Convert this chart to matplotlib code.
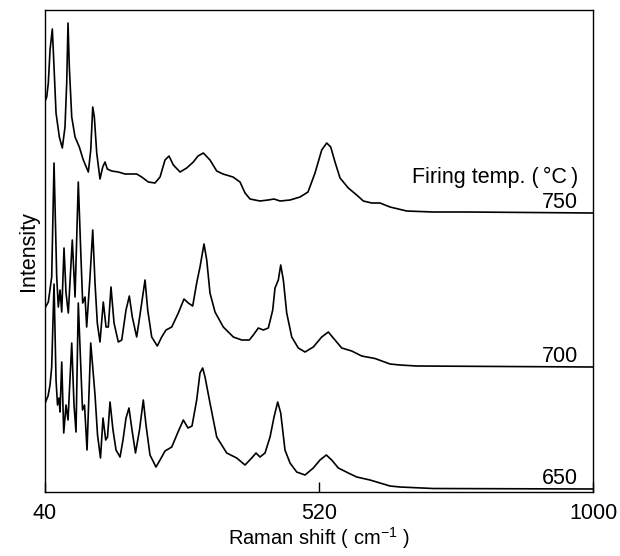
import matplotlib
matplotlib.use("Agg")
import matplotlib.pyplot as plt

plt.rcParams.update({
    'font.family': ['Liberation Sans', 'DejaVu Sans'],
    'mathtext.default': 'regular',
    'font.size': 15.5,
})

# ---------- Data ----------
shift_750 = [41, 43.0, 45.8, 48.8, 52.8, 55.8, 59.3, 65.1, 70.3, 75.0, 78.0, 80.3,
             82.6, 86.8, 92.6, 100.1, 107.1, 115.9, 120.1, 123.6, 126.4, 130.6,
             136.3, 141.1, 145.1, 149.1, 156.8, 168.4, 180.1, 200.6, 209.4, 221,
             232.7, 241.5, 250.2, 257.2, 264.8, 276.5, 288.2, 299.8, 308, 317.3,
             329, 340.8, 351.8, 369.3, 381.6, 390.4, 399.1, 416.6, 430.7, 441.2,
             451.7, 469.2, 486.7, 500.7, 513, 524.7, 533.5, 540.5, 548, 556.8,
             571.3, 586, 597.6, 612.3, 626.9, 644.4, 673.6, 719.7, 779.3, 1000]
int_750 = [113, 116, 130, 163, 184, 146, 100, 76, 65, 86, 130, 190,
           146, 96, 76, 66, 53, 41, 63, 106, 96, 60,
           34, 46, 51, 44, 42, 41, 39, 39, 36, 31,
           30, 36, 53, 57, 48, 41, 45, 51, 57, 60,
           53, 42, 39, 36, 31, 20, 14, 12, 13, 14,
           12, 13, 16, 21, 40, 63, 70, 66, 51, 35,
           25, 18, 12, 10, 10, 6, 2, 1, 1, 0]

shift_700 = [40.9, 45.8, 51.7, 55.8, 60.5, 63.3, 66.3, 69.3, 73.3, 76.8, 80.8, 87.8,
             92.6, 98.3, 102.5, 106, 110.1, 113, 118.8, 123.6, 127.6, 131.6,
             136.3, 142.1, 146.9, 150.9, 155.6, 160.9, 168.4, 174.4, 181.9, 187.7,
             192.9, 200.6, 207.6, 215.2, 219.9, 226.9, 236.7, 244.4, 252, 262,
             273.5, 283.5, 291, 298.7, 305.7, 311.5, 318.5, 323.3, 329, 337.8,
             352.3, 369.9, 384.6, 397.9, 404.9, 413.7, 422.4, 431.2, 438.9, 442.9,
             448.7, 452.9, 457.5, 463.4, 472.2, 483.7, 495.5, 510, 524.7, 536.3,
             545, 559.8, 577.3, 594.8, 618.1, 644.4, 661.9, 691.2, 1000]
int_700 = [60, 65, 90, 204, 90, 60, 77, 55, 119, 74, 54, 127,
           70, 185, 117, 64, 70, 40, 90, 137, 84, 44,
           25, 65, 40, 40, 80, 44, 25, 27, 57, 71,
           50, 30, 57, 87, 57, 30, 21, 30, 37, 40,
           54, 68, 64, 61, 84, 100, 123, 107, 74, 55,
           40, 30, 27, 27, 32, 39, 37, 39, 57, 79,
           87, 102, 87, 54, 30, 19, 15, 20, 30, 35,
           29, 19, 16, 11, 8.5, 3, 2, 1, 0]

shift_650 = [40.9, 45.3, 48.8, 51.7, 55.8, 59.3, 61.9, 64.5, 66.3, 69.3, 72.8, 76.8,
             80.3, 86.8, 90.8, 94.3, 98.3, 102.2, 105.7, 109.2, 113.6, 120.1,
             127.6, 132, 137.2, 141.6, 146.3, 149.5, 153.9, 159.1, 164.4, 171.4,
             176.6, 181.9, 187.1, 192.4, 198.5, 205.5, 212.2, 216.9, 223.9, 234.4,
             241.5, 250.2, 262, 273, 282.3, 290.5, 297.5, 305.7, 311.5, 316.2,
             320.3, 329, 340.8, 358.3, 375.8, 390.4, 402.1, 409.6, 416.6, 425.4,
             434.2, 441.2, 447.6, 452.9, 460.4, 469.2, 480.9, 495.5, 510, 521.7,
             532.8, 542.2, 553.8, 571.3, 586, 609.3, 644.4, 661.9, 719.7, 1000]
int_650 = [87, 93, 104, 122, 205, 109, 84, 91, 77, 127, 56, 84,
           69, 146, 84, 57, 186, 129, 79, 84, 39, 146,
           94, 54, 31, 71, 49, 52, 87, 59, 39, 32,
           49, 71, 81, 59, 36, 59, 89, 64, 34, 22,
           29, 38, 42, 57, 69, 61, 63, 89, 116, 121,
           112, 86, 52, 36, 31, 24, 31, 36, 32, 36,
           52, 72, 87, 76, 39, 26, 17, 14, 21, 29,
           34, 29, 21, 16, 12, 9, 3, 2, 0.5, 0]

temps = ['650', '700', '750']
offsets = {'650': 3, '700': 125, '750': 279}

# ---------- Figure ----------
fig = plt.figure(figsize=(6.2, 5.56), dpi=100)
ax = fig.add_axes([0.0726, 0.1151, 0.8839, 0.8669])

spectra = {'650': (shift_650, int_650),
           '700': (shift_700, int_700),
           '750': (shift_750, int_750)}
for t in temps:
    xs, ys = spectra[t]
    ax.plot(xs, [v + offsets[t] for v in ys], color='black', lw=1.2,
            solid_joinstyle='round')
    ax.text(974, offsets[t] + 5, t, ha='right', va='baseline')

ax.text(974, offsets['750'] + 30, 'Firing temp. (\u2009°C\u2009)', ha='right',
        va='baseline')

ax.set_xlim(40, 1000)
ax.set_ylim(0, 482)
ax.set_xticks([40, 520, 1000])
ax.set_xticklabels(['40', '520', '1000'])
ax.tick_params(axis='x', direction='in', length=7, width=1, pad=8)
ax.set_yticks([])
ax.set_xlabel('Raman shift ( cm$^{-1}$ )', fontsize=14.5, labelpad=1)
ax.set_ylabel('Intensity', labelpad=4)

for s in ax.spines.values():
    s.set_linewidth(1.0)

fig.savefig('out.png', dpi=100)
